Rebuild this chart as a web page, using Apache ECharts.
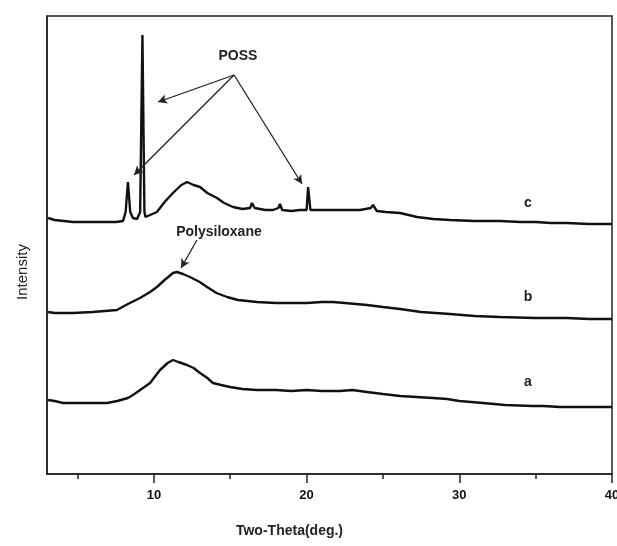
<!DOCTYPE html>
<html><head><meta charset="utf-8">
<script src="https://cdn.jsdelivr.net/npm/echarts@6/dist/echarts.min.js"></script>
<style>html,body{margin:0;padding:0;background:#fff}#c{width:617px;height:546px}</style>
</head><body><div id="c"></div>
<script>
// Two-Theta (deg.) and intensity (arbitrary units) for each pattern
const thetaA = [3.07,3.5,4.05,5.0,6.0,6.93,7.6,8.3,8.63,9.1,9.75,10.4,10.9,11.25,11.6,12.17,12.6,13.02,13.5,13.87,14.4,14.98,15.8,16.75,18.0,19.0,20.0,21.0,22.19,23.0,23.96,25.0,26.12,27.2,28.28,29.2,30.0,31.55,33.0,34.83,35.5,36.59,38.0,40.0];
const intA   = [74,73,71,71,71,71,73,76,79,84,91,104,111,114,112,109,106,101,96,91,89,87,85,84,84,83,84,83,83,84,82,80,78,77,76,75,73,71,69,68,68,67,67,67];
const thetaB = [3.07,3.5,4.7,6.0,7.58,8.3,9.09,9.75,10.2,10.7,11.25,11.51,11.9,12.36,13.0,13.48,14.1,14.79,15.5,16.75,18.0,20.03,21.0,21.73,22.5,23.96,25.0,26.12,27.5,29.39,31.0,32.67,35.0,37.05,38.5,40.0];
const intB   = [162,161,161,162,164,170,176,182,187,194,201,202,200,197,192,187,181,177,174,172,171,171,172,172,171,169,167,165,162,160,158,157,156,156,155,155];
const thetaC = [3.07,3.5,4.7,6.0,7.5,7.98,8.15,8.3,8.45,8.63,8.9,9.1,9.25,9.38,9.45,9.75,10.2,10.7,11.25,11.8,12.17,12.6,13.02,13.5,14.13,14.6,15.18,15.8,16.3,16.42,16.6,17.3,17.8,18.15,18.26,18.4,19.0,19.57,20.0,20.1,20.25,21.0,21.73,22.5,23.5,24.2,24.35,24.6,25.2,26.12,27.23,28.3,29.39,31.0,32.67,34.0,35.0,36.0,37.05,38.5,40.0];
const intC   = [256,254,252,252,252,253,262,292,262,256,255,262,439,262,257,259,262,272,281,289,292,289,287,281,276,271,267,265,266,271,266,264,264,266,270,264,263,264,264,287,264,264,264,264,264,266,269,263,262,261,257,255,254,253,253,252,252,251,251,250,250];

const xMin = 3, xMax = 40;
const majorTicks = [10,20,30,40];
const minorTicks = [5,15,25,35];

// Annotation arrows [fromTheta, fromInt, toTheta, toInt]
const possArrows = [[15.25,399,10.27,372],[15.25,399,8.70,299],[15.25,399,19.70,290]];
const polyArrow = [[12.82,234,11.78,206]];
// Text labels [theta, intensity, text]
const textLabels = [[15.5,418,'POSS'],[14.26,242,'Polysiloxane'],[34.5,271,'c'],[34.5,177,'b'],[34.5,92,'a']];

const zip = (xs, ys) => xs.map((x, i) => [x, ys[i]]);
const chart = echarts.init(document.getElementById('c'));
const font = 'Liberation Sans, Arial, sans-serif';
const lineSeries = (name, data) => ({
  name, type: 'line', data, symbol: 'none', xAxisIndex: 0,
  lineStyle: { color: '#111', width: 2.4 }, animation: false
});
const series = [
  lineSeries('a', zip(thetaA, intA)),
  lineSeries('b', zip(thetaB, intB)),
  lineSeries('c', zip(thetaC, intC))
];
series[2].markLine = {
  silent: true, symbol: ['none','arrow'], symbolSize: [7, 9], animation: false,
  label: { show: false },
  lineStyle: { color: '#222', width: 1.3, type: 'solid' },
  data: possArrows.concat(polyArrow).map(a => [{ coord: [a[0], a[1]] }, { coord: [a[2], a[3]] }])
};
series[2].markPoint = {
  silent: true, symbol: 'circle', symbolSize: 1, animation: false,
  itemStyle: { color: 'rgba(0,0,0,0)' },
  data: textLabels.map(t => ({
    coord: [t[0], t[1]], value: t[2],
    label: { show: true, position: 'inside', formatter: t[2], color: '#222',
      fontFamily: font, fontWeight: 'bold', fontSize: 14 }
  }))
};

chart.setOption({
  animation: false,
  backgroundColor: '#fff',
  grid: { left: 47, right: 5, top: 16, bottom: 72, show: true, borderColor: '#222', borderWidth: 1.5,
          containLabel: false, outerBoundsMode: 'none' },
  xAxis: [{
    type: 'value', min: xMin, max: xMax,
    name: 'Two-Theta(deg.)', nameLocation: 'middle', nameGap: 50,
    nameTextStyle: { fontFamily: font, fontWeight: 'bold', fontSize: 14, color: '#222', padding: [0, 80, 0, 0] },
    axisLine: { lineStyle: { color: '#222', width: 1.5 } },
    axisTick: { show: true, customValues: majorTicks, length: 9, lineStyle: { color: '#222', width: 1.5 } },
    axisLabel: { customValues: majorTicks, margin: 15, fontFamily: font, fontWeight: 'bold', fontSize: 13, color: '#111' },
    splitLine: { show: false }
  }, {
    type: 'value', min: xMin, max: xMax, position: 'bottom', offset: 0,
    axisLine: { show: false },
    axisTick: { show: true, customValues: minorTicks, length: 5, lineStyle: { color: '#222', width: 1.5 } },
    axisLabel: { show: false }, splitLine: { show: false }
  }],
  yAxis: {
    type: 'value', min: 0, max: 458,
    name: 'Intensity', nameLocation: 'middle', nameGap: 17,
    nameTextStyle: { fontFamily: font, fontSize: 15, color: '#222', padding: [0, 54, 0, 0] },
    axisLine: { show: true, lineStyle: { color: '#222', width: 1.5 } },
    axisTick: { show: false }, axisLabel: { show: false }, splitLine: { show: false }
  },
  series
});
</script></body></html>
